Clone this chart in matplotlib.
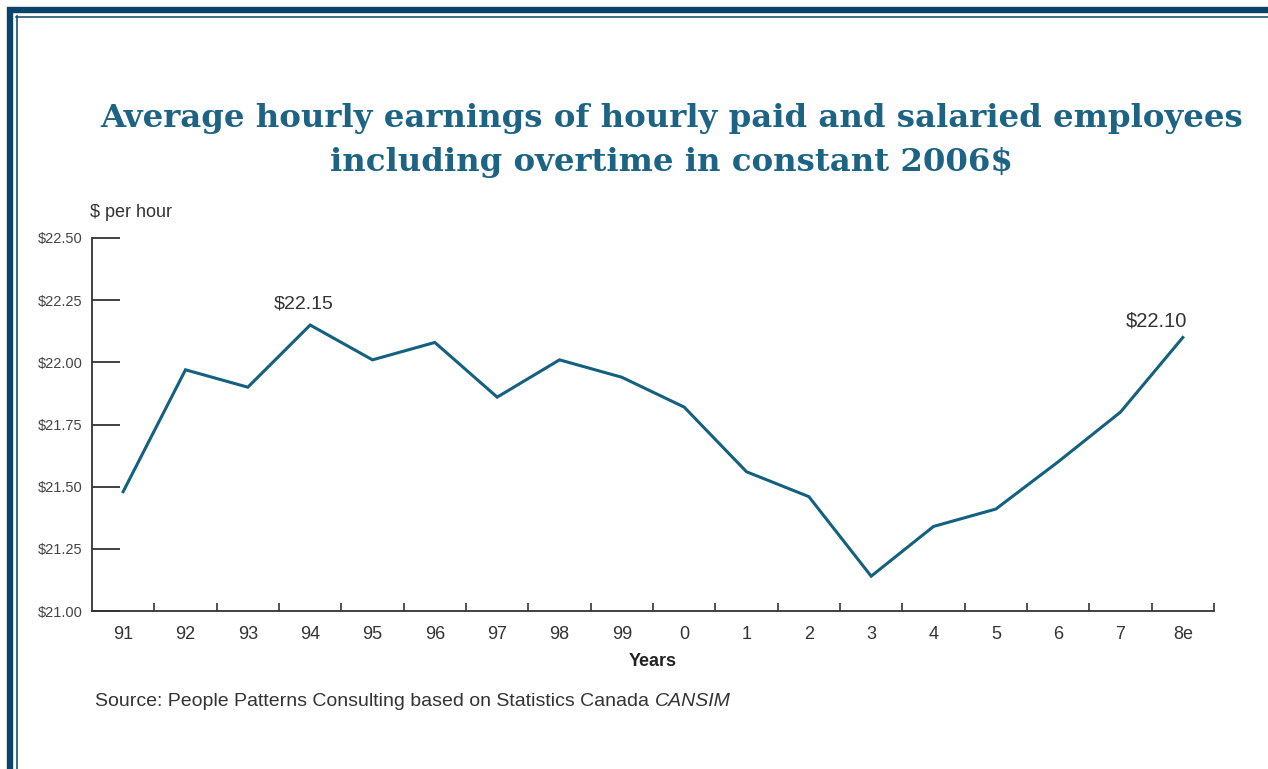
import matplotlib.pyplot as plt
from matplotlib.lines import Line2D

years = ['91', '92', '93', '94', '95', '96', '97', '98', '99',
         '0', '1', '2', '3', '4', '5', '6', '7', '8e']
earnings = [21.48, 21.97, 21.90, 22.15, 22.01, 22.08, 21.86, 22.01, 21.94,
            21.82, 21.56, 21.46, 21.14, 21.34, 21.41, 21.60, 21.80, 22.10]
y_ticks = [21.00, 21.25, 21.50, 21.75, 22.00, 22.25, 22.50]

navy = '#0b4468'
teal = '#13607f'
title_blue = '#1c6384'
grey = '#333333'

plt.rcParams['font.family'] = ['Liberation Sans', 'DejaVu Sans']

W, H = 1268, 769
fig = plt.figure(figsize=(W / 100, H / 100), dpi=100)
fig.patch.set_facecolor('white')

# pixel helpers for placing things on the figure
def fx(px):
    return px / W

def fy(py):
    return 1 - py / H

# double rule along the top and left edges
fig.add_artist(Line2D([fx(10), fx(10)], [0, fy(7)], color=navy, lw=4.6,
                      solid_capstyle='butt'))
fig.add_artist(Line2D([fx(7), 1], [fy(10), fy(10)], color=navy, lw=4.6,
                      solid_capstyle='butt'))
fig.add_artist(Line2D([fx(16.5), fx(16.5)], [0, fy(15.5)], color=navy, lw=1.1))
fig.add_artist(Line2D([fx(16), 1], [fy(16.5), fy(16.5)], color=navy, lw=1.1))

fig.text(fx(672), fy(118), 'Average hourly earnings of hourly paid and salaried employees',
         ha='center', va='center', fontsize=23.3, fontweight='bold',
         family='DejaVu Serif', color=title_blue)
fig.text(fx(672), fy(162), 'including overtime in constant 2006$',
         ha='center', va='center', fontsize=23.3, fontweight='bold',
         family='DejaVu Serif', color=title_blue)

ax = fig.add_axes([fx(92), fy(611), fx(1214) - fx(92), fy(238) - fy(611)])
x = list(range(len(years)))
ax.plot(x, earnings, color=teal, lw=2.2, solid_joinstyle='miter')

ax.set_xlim(-0.5, len(years) - 0.5)
ax.set_ylim(21.0, 22.5)
for side in ['top', 'right']:
    ax.spines[side].set_visible(False)
for side in ['left', 'bottom']:
    ax.spines[side].set_color(grey)
    ax.spines[side].set_linewidth(1.3)

ax.set_yticks(y_ticks)
ax.set_yticklabels(['$%.2f' % v for v in y_ticks], fontsize=10.5, color='#444444')
ax.tick_params(axis='y', direction='in', length=20, width=1.3, color=grey, pad=7)

ax.set_xticks(x)
ax.set_xticklabels(years, fontsize=13, color=grey)
ax.set_xticks([i + 0.5 for i in x], minor=True)
ax.tick_params(axis='x', which='major', length=0, pad=11)
ax.tick_params(axis='x', which='minor', direction='in', length=6, width=1.2, color=grey)

ax.set_xlabel('Years', fontsize=13, fontweight='bold', color='#222222', labelpad=7)

ax.text(-0.53, 22.57, '$ per hour', fontsize=13, color=grey, ha='left', va='bottom')

ax.annotate('$%.2f' % earnings[3], (3, earnings[3]), xytext=(-5, 9),
            textcoords='offset points', ha='center', va='bottom', fontsize=14, color=grey)
ax.annotate('$%.2f' % earnings[-1], (17, earnings[-1]), xytext=(3, 5),
            textcoords='offset points', ha='right', va='bottom', fontsize=14.5, color=grey)

src = fig.text(fx(95), fy(702), 'Source: People Patterns Consulting based on Statistics Canada',
               ha='left', va='center', fontsize=14, color=grey)
fig.add_artist(plt.Annotation('CANSIM', xy=(1, 0), xycoords=src, xytext=(4, 0),
                              textcoords='offset points', ha='left', va='bottom',
                              fontsize=14, style='italic', color=grey))

fig.savefig('out.png', dpi=100)
